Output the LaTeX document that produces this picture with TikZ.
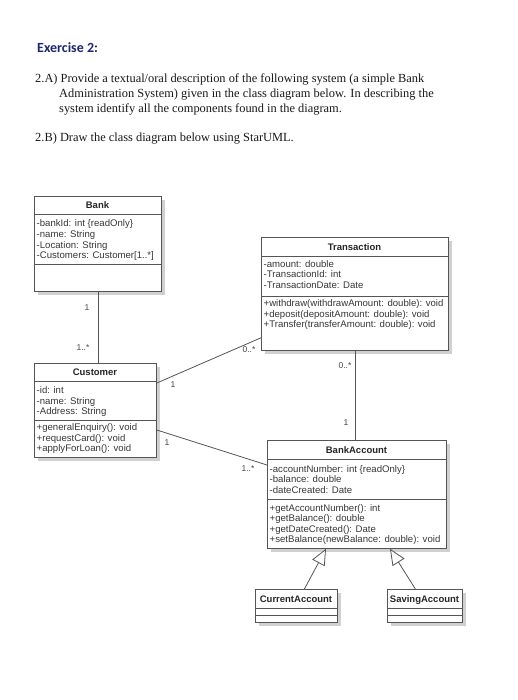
\documentclass[tikz,border=0pt]{standalone}
\usepackage{fontspec}
\setmainfont{Liberation Serif}
\newfontfamily\umlfont{Liberation Sans}
\newfontfamily\headfont{Carlito}
\usetikzlibrary{arrows.meta,calc,shadows}
\definecolor{navyc}{RGB}{30,40,110}
\definecolor{boxline}{RGB}{85,85,85}
\definecolor{membc}{RGB}{55,55,55}
\definecolor{labelc}{RGB}{70,70,70}
\definecolor{shadowc}{RGB}{208,208,208}
\definecolor{parac}{RGB}{25,25,25}
\begin{document}
\begin{tikzpicture}[x=1pt,y=1pt,
  box/.style={draw=boxline, fill=white, line width=0.8pt, inner sep=0pt, anchor=north west,
    general shadow={fill=shadowc, shadow xshift=4pt, shadow yshift=-4pt}},
  sepline/.style={draw=boxline, line width=0.7pt},
  ctitle/.style={anchor=base, inner sep=0pt, text=black!85, font=\umlfont\bfseries\fontsize{9.5}{11}\selectfont},
  member/.style={anchor=base west, inner sep=0pt, text=membc, font=\umlfont\fontsize{9.6}{11}\selectfont},
  mult/.style={inner sep=0pt, text=labelc, font=\umlfont\fontsize{8.5}{10}\selectfont},
  assoc/.style={draw=boxline, line width=0.8pt},
  gen/.style={draw=boxline, line width=0.8pt, -{Triangle[open, length=16pt, width=14pt, fill=white]}},
  para/.style={anchor=base west, inner sep=0pt, text=parac, font=\fontsize{12.4}{15}\selectfont}
]
\useasboundingbox[fill=white] (0,0) rectangle (518,-700);

% heading and text
\node[anchor=base west, inner sep=0pt, text=navyc, font=\headfont\bfseries\fontsize{14}{16}\selectfont] (ex) at (37,-53) {Exercise 2:};
\node[para] (p1) at (35,-83) {2.A) Provide a textual/oral description of the following system (a simple Bank};
\node[para] (p2) at (59,-98) {Administration System) given in the class diagram below. In describing the};
\node[para] (p3) at (59,-112.5) {system identify all the components found in the diagram.};
\node[para] (p4) at (35,-142) {2.B) Draw the class diagram below using StarUML.};

% Bank
\node[box, minimum width=127pt, minimum height=95pt] (bank) at (34,-196) {};
\draw[sepline] (34,-214) -- (161,-214);
\draw[sepline] (34,-264) -- (161,-264);
\node[ctitle] (bank-t) at (97.5,-208.5) {Bank};
\foreach \t [count=\i] in {{-bankId: int \{readOnly\}},{-name: String},{-Location: String},{-Customers: Customer[1..*]}}
  \node[member] (bank-a\i) at (36.5,-216.5-10.5*\i) {\t};

% Customer
\node[box, minimum width=122pt, minimum height=94pt] (cust) at (34,-363) {};
\draw[sepline] (34,-381) -- (156,-381);
\draw[sepline] (34,-420) -- (156,-420);
\node[ctitle] (cust-t) at (95,-375.5) {Customer};
\foreach \t [count=\i] in {{-id: int},{-name: String},{-Address: String}}
  \node[member] (cust-a\i) at (36.5,-383-10.5*\i) {\t};
\foreach \t [count=\i] in {{+generalEnquiry(): void},{+requestCard(): void},{+applyForLoan(): void}}
  \node[member] (cust-o\i) at (36.5,-420-10.5*\i) {\t};

% Transaction
\node[box, minimum width=187pt, minimum height=113pt] (trans) at (261,-237) {};
\draw[sepline] (261,-256.5) -- (448,-256.5);
\draw[sepline] (261,-296.5) -- (448,-296.5);
\node[ctitle] (trans-t) at (354.5,-250.5) {Transaction};
\foreach \t [count=\i] in {{-amount: double},{-TransactionId: int},{-TransactionDate: Date}}
  \node[member] (trans-a\i) at (263.5,-256.5-10.5*\i) {\t};
\foreach \t [count=\i] in {{+withdraw(withdrawAmount: double): void},{+deposit(depositAmount: double): void},{+Transfer(transferAmount: double): void}}
  \node[member] (trans-o\i) at (263.5,-296-10.5*\i) {\t};

% BankAccount
\node[box, minimum width=179pt, minimum height=108pt] (acct) at (267,-440) {};
\draw[sepline] (267,-459) -- (446,-459);
\draw[sepline] (267,-499) -- (446,-499);
\node[ctitle] (acct-t) at (356.5,-453) {BankAccount};
\foreach \t [count=\i] in {{-accountNumber: int \{readOnly\}},{-balance: double},{-dateCreated: Date}}
  \node[member] (acct-a\i) at (269.5,-461.5-10.5*\i) {\t};
\foreach \t [count=\i] in {{+getAccountNumber(): int},{+getBalance(): double},{+getDateCreated(): Date},{+setBalance(newBalance: double): void}}
  \node[member] (acct-o\i) at (269.5,-500.5-10.5*\i) {\t};

% CurrentAccount
\node[box, minimum width=82pt, minimum height=33pt] (cur) at (255,-589) {};
\draw[sepline] (255,-608) -- (337,-608);
\draw[sepline] (255,-615) -- (337,-615);
\node[ctitle] (cur-t) at (296,-602.5) {CurrentAccount};

% SavingAccount
\node[box, minimum width=75pt, minimum height=33pt] (sav) at (387,-589) {};
\draw[sepline] (387,-608) -- (462,-608);
\draw[sepline] (387,-615) -- (462,-615);
\node[ctitle] (sav-t) at (424.5,-602.5) {SavingAccount};

% associations
\draw[assoc] (bank.south) -- (bank.south |- cust.north);
\draw[assoc] ($(cust.north east)+(0,-20)$) -- ($(trans.south west)+(0,13)$);
\draw[assoc] ($(cust.north east)+(0,-67)$) -- ($(acct.north west)+(0,-25)$);
\draw[assoc] (trans.south) -- (trans.south |- acct.north);

% generalizations
\draw[gen] ($(cur.north)+(8,0)$) -- ($(acct.south west)+(59,0)$);
\draw[gen] ($(sav.north)+(-9.5,0)$) -- ($(acct.south west)+(123,0)$);

% multiplicities
\node[mult] (m1) at (87,-308) {1};
\node[mult] (m2) at (83,-348) {1..*};
\node[mult] (m3) at (249,-350) {0..*};
\node[mult] (m4) at (173,-385) {1};
\node[mult] (m5) at (345,-366) {0..*};
\node[mult] (m6) at (346,-423) {1};
\node[mult] (m7) at (167,-443) {1};
\node[mult] (m8) at (248,-469) {1..*};
\end{tikzpicture}
\end{document}
